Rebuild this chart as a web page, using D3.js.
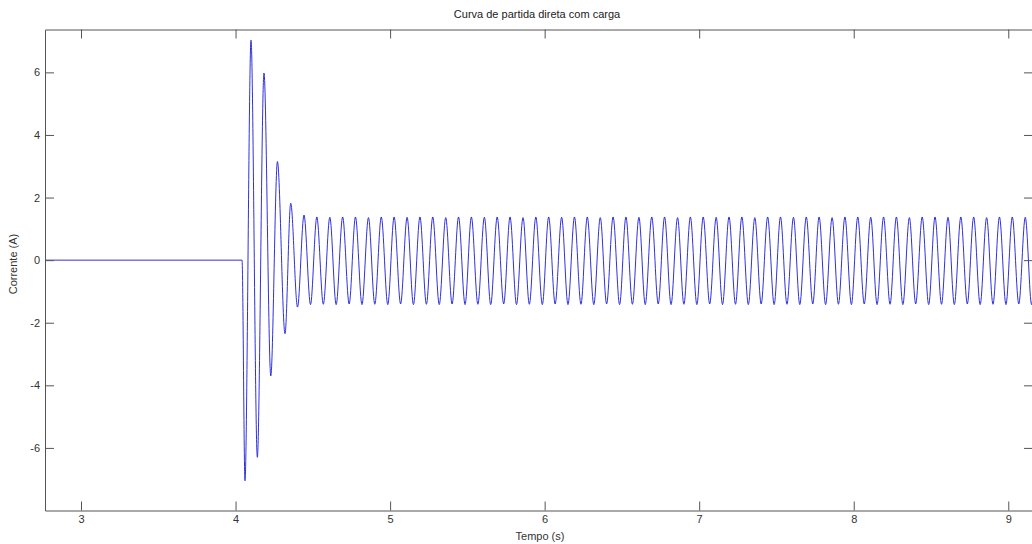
<!DOCTYPE html>
<html>
<head>
<meta charset="utf-8">
<script src="https://cdn.jsdelivr.net/npm/d3@7"></script>
<style>
  html, body { margin: 0; padding: 0; background: #fff; }
  svg { display: block; }
  text { font-family: "Liberation Sans", Arial, sans-serif; }
</style>
</head>
<body>
<svg id="chart" width="1032" height="544"></svg>
<script>
// ---- Data ----
const titleText = "Curva de partida direta com carga";
const xLabel = "Tempo (s)";
const yLabel = "Corrente (A)";
const xTicks = [3, 4, 5, 6, 7, 8, 9];
const yTicks = [-6, -4, -2, 0, 2, 4, 6];
const xDomain = [2.767, 9.16];
const yDomain = [-8, 7.37];

// start-up transient (time s, current A)
const transientTimes  = [2.767, 4.042, 4.061, 4.100, 4.141, 4.184, 4.228, 4.271, 4.320, 4.357, 4.401];
const transientValues = [0, 0, -7.05, 7.03, -6.30, 5.98, -3.70, 3.15, -2.35, 1.82, -1.50];

// steady-state maxima
const peakTimes = [4.443, 4.526, 4.610, 4.693, 4.776, 4.860, 4.943, 5.026, 5.110, 5.193,
  5.276, 5.360, 5.443, 5.526, 5.610, 5.693, 5.776, 5.860, 5.943, 6.026,
  6.110, 6.193, 6.276, 6.360, 6.443, 6.526, 6.610, 6.693, 6.776, 6.860,
  6.943, 7.026, 7.110, 7.193, 7.276, 7.360, 7.443, 7.526, 7.610, 7.693,
  7.776, 7.860, 7.943, 8.026, 8.110, 8.193, 8.276, 8.360, 8.443, 8.526,
  8.610, 8.693, 8.776, 8.860, 8.943, 9.026, 9.110, 9.193];
const peakValues = [1.44, 1.38, 1.37, 1.38, 1.38, 1.36, 1.38, 1.38, 1.37, 1.38,
  1.38, 1.36, 1.38, 1.38, 1.37, 1.38, 1.38, 1.36, 1.38, 1.38,
  1.37, 1.38, 1.38, 1.36, 1.38, 1.38, 1.37, 1.38, 1.38, 1.36,
  1.38, 1.38, 1.37, 1.38, 1.38, 1.36, 1.38, 1.38, 1.37, 1.38,
  1.38, 1.36, 1.38, 1.38, 1.37, 1.38, 1.38, 1.36, 1.38, 1.38,
  1.37, 1.38, 1.38, 1.36, 1.38, 1.38, 1.37, 1.38];

// steady-state minima
const troughTimes = [4.485, 4.568, 4.651, 4.735, 4.818, 4.901, 4.985, 5.068, 5.151, 5.235,
  5.318, 5.401, 5.485, 5.568, 5.651, 5.735, 5.818, 5.901, 5.985, 6.068,
  6.151, 6.235, 6.318, 6.401, 6.485, 6.568, 6.651, 6.735, 6.818, 6.901,
  6.985, 7.068, 7.151, 7.235, 7.318, 7.401, 7.485, 7.568, 7.651, 7.735,
  7.818, 7.901, 7.985, 8.068, 8.151, 8.235, 8.318, 8.401, 8.485, 8.568,
  8.651, 8.735, 8.818, 8.901, 8.985, 9.068, 9.151, 9.235];
const troughValues = [-1.42, -1.41, -1.42, -1.40, -1.42, -1.41, -1.42, -1.40, -1.42, -1.41,
  -1.42, -1.40, -1.42, -1.41, -1.42, -1.40, -1.42, -1.41, -1.42, -1.40,
  -1.42, -1.41, -1.42, -1.40, -1.42, -1.41, -1.42, -1.40, -1.42, -1.41,
  -1.42, -1.40, -1.42, -1.41, -1.42, -1.40, -1.42, -1.41, -1.42, -1.40,
  -1.42, -1.41, -1.42, -1.40, -1.42, -1.41, -1.42, -1.40, -1.42, -1.41,
  -1.42, -1.40, -1.42, -1.41, -1.42, -1.40, -1.42, -1.41];

(function () {
// ---- Build series ----
const points = [];
transientTimes.forEach((t, i) => points.push({t, v: transientValues[i]}));
peakTimes.forEach((t, i) => points.push({t, v: peakValues[i]}));
troughTimes.forEach((t, i) => points.push({t, v: troughValues[i]}));
points.sort((a, b) => a.t - b.t);

// ---- Layout ----
const svg = d3.select("#chart");
const mLeft = 45, mRight = 1033, mTop = 29.5, mBottom = 510.5;
const x = d3.scaleLinear().domain(xDomain).range([mLeft, mRight]);
const y = d3.scaleLinear().domain(yDomain).range([mBottom, mTop]);
const axisColor = "#555";
const textColor = "#333";
const tickLen = 9;
const fmt = d => String(d);

svg.append("defs").append("clipPath").attr("id", "clip")
  .append("rect").attr("x", mLeft).attr("y", mTop)
  .attr("width", mRight - mLeft).attr("height", mBottom - mTop);

// data line
const line = d3.line().x(d => x(d.t)).y(d => y(d.v)).curve(d3.curveMonotoneX);
svg.append("path")
  .datum(points)
  .attr("clip-path", "url(#clip)")
  .attr("fill", "none")
  .attr("stroke", "#3030dd")
  .attr("stroke-width", 1)
  .attr("d", line);

// axes (inward ticks, MATLAB style)
function styleAxis(g) {
  g.select(".domain").attr("stroke", axisColor);
  g.selectAll(".tick line").attr("stroke", axisColor);
  g.selectAll(".tick text").attr("fill", textColor)
    .style("font-size", "11px").style("font-family", "'Liberation Sans', Arial, sans-serif");
}
const gx = svg.append("g").attr("transform", `translate(0,${mBottom})`)
  .call(d3.axisBottom(x).tickValues(xTicks).tickFormat(fmt)
    .tickSizeInner(-tickLen).tickSizeOuter(0).tickPadding(5));
styleAxis(gx);
const gxt = svg.append("g").attr("transform", `translate(0,${mTop})`)
  .call(d3.axisTop(x).tickValues(xTicks).tickFormat("")
    .tickSizeInner(-tickLen).tickSizeOuter(0));
styleAxis(gxt);
const gy = svg.append("g").attr("transform", `translate(${mLeft},0)`)
  .call(d3.axisLeft(y).tickValues(yTicks).tickFormat(fmt)
    .tickSizeInner(-tickLen).tickSizeOuter(0).tickPadding(6));
styleAxis(gy);
gy.selectAll(".tick text").attr("x", -5);
const gyr = svg.append("g").attr("transform", `translate(${mRight},0)`)
  .call(d3.axisRight(y).tickValues(yTicks).tickFormat("")
    .tickSizeInner(-tickLen).tickSizeOuter(0));
styleAxis(gyr);

// title & labels
svg.append("text").attr("x", 537).attr("y", 18).attr("text-anchor", "middle")
  .attr("fill", "#222").style("font-size", "11px").text(titleText);
svg.append("text").attr("x", 540).attr("y", 540).attr("text-anchor", "middle")
  .attr("fill", textColor).style("font-size", "11px").text(xLabel);
svg.append("text").attr("transform", `translate(17,264) rotate(-90)`)
  .attr("text-anchor", "middle").attr("fill", textColor)
  .style("font-size", "11px").text(yLabel);
})();
</script>
</body>
</html>
